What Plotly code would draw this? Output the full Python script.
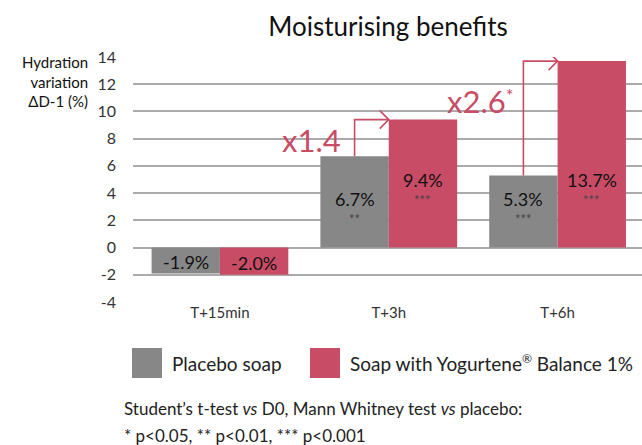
import plotly.graph_objects as go

categories = ["T+15min", "T+3h", "T+6h"]
placebo = [-1.9, 6.7, 5.3]
yogurtene = [-2.0, 9.4, 13.7]
placebo_labels = ["-1.9%", "6.7%", "5.3%"]
yogurtene_labels = ["-2.0%", "9.4%", "13.7%"]
placebo_stars = ["", "**", "***"]
yogurtene_stars = ["", "***", "***"]
fold_index = [1, 2]
fold_text = ["x1.4", "x2.6"]
fold_star = ["", "*"]
y_ticks = [-4, -2, 0, 2, 4, 6, 8, 10, 12, 14]

GREY = "#878787"
RED = "#c84c66"
FONT = "Lato"
BARGAP = 0.19
half = (1 - BARGAP) / 4  # offset of each bar center from category center

# plot-area pixel geometry
L, R, T, B = 133, 0, 57, 143
W, H = 642, 445
PW, PH = W - L - R, H - T - B

def px_x(px):
    return (px - L) / PW

def px_y(py):
    return 1 - (py - T) / PH

fig = go.Figure()
fig.add_trace(go.Bar(x=list(range(3)), y=placebo, marker=dict(color=GREY, line=dict(width=0)),
                     name="Placebo soap", showlegend=False, hoverinfo="skip"))
fig.add_trace(go.Bar(x=list(range(3)), y=yogurtene, marker=dict(color=RED, line=dict(width=0)),
                     name="Soap with Yogurtene® Balance 1%", showlegend=False, hoverinfo="skip"))

ann = []
shapes = []
# value labels
for i in range(3):
    for off, val, lab, st, ylab in ((-half, placebo[i], placebo_labels[i], placebo_stars[i], 3.6),
                                     (half, yogurtene[i], yogurtene_labels[i], yogurtene_stars[i], 4.95)):
        yy = ylab if val > 0 else val / 2 - 0.1
        ann.append(dict(x=i + off, y=yy, xref="x", yref="y", text=lab, showarrow=False,
                        font=dict(family=FONT, size=18, color="#111")))
        if st:
            ann.append(dict(x=i + off, y=yy, xref="x", yref="y", text=st, showarrow=False, yshift=-20,
                            font=dict(family=FONT, size=13, color="#444")))

# fold-change arrows
for k, i in enumerate(fold_index):
    xg = i - half
    yg = placebo[i]
    yr = yogurtene[i]
    shapes.append(dict(type="path", xref="x", yref="y",
                       path=f"M {xg},{yg} L {xg},{yr} L {i},{yr}",
                       line=dict(color=RED, width=1.6)))
    shapes.append(dict(type="path", xref="x", yref="y", xsizemode="pixel", ysizemode="pixel",
                       xanchor=i, yanchor=yr, path="M -9,9 L 0,0 L -9,-9",
                       line=dict(color=RED, width=1.6)))
    txt = fold_text[k]
    if fold_star[k]:
        txt += f"<span style='font-size:26px'><sup>{fold_star[k]}</sup></span>"
    ann.append(dict(x=xg, y=[7.9, 10.8][k], xref="x", yref="y", text=txt, showarrow=False,
                    xanchor="right", xshift=[-12, -8][k],
                    font=dict(family=FONT, size=31, color=RED)))

# y-axis title
ann.append(dict(x=px_x(90), y=px_y(51), xref="paper", yref="paper", text="Hydration<br>variation<br>ΔD-1 (%)",
                showarrow=False, xanchor="right", yanchor="top", align="right",
                font=dict(family=FONT, size=15, color="#111")))

# legend
for sx, col, lab in ((132, GREY, "Placebo soap"),
                     (310, RED, "Soap with Yogurtene<sup><span style='font-size:12px'>®</span></sup> Balance 1%")):
    shapes.append(dict(type="rect", xref="paper", yref="paper", x0=px_x(sx), x1=px_x(sx + 30),
                       y0=px_y(378), y1=px_y(348), fillcolor=col, line=dict(width=0)))
    ann.append(dict(x=px_x(sx + 38), y=px_y(363), xref="paper", yref="paper", text=lab, showarrow=False,
                    xanchor="left", yanchor="middle", font=dict(family=FONT, size=19, color="#222")))

# footnote
ann.append(dict(x=px_x(122), y=px_y(408), xref="paper", yref="paper",
                text="Student’s t-test <i>vs</i> D0, Mann Whitney test <i>vs</i> placebo:",
                showarrow=False, xanchor="left", yanchor="middle", font=dict(family=FONT, size=17, color="#222")))
ann.append(dict(x=px_x(122), y=px_y(435), xref="paper", yref="paper",
                text="* p<0.05, ** p<0.01, *** p<0.001",
                showarrow=False, xanchor="left", yanchor="middle", font=dict(family=FONT, size=17, color="#222")))

fig.update_layout(
    width=W, height=H, margin=dict(l=L, r=R, t=T, b=B),
    paper_bgcolor="white", plot_bgcolor="white",
    barmode="group", bargap=BARGAP, bargroupgap=0,
    title=dict(text="Moisturising benefits", xref="container", x=388 / W, xanchor="center",
               yref="container", y=1 - 27 / H, yanchor="middle",
               font=dict(family=FONT, size=26, color="#111")),
    xaxis=dict(tickmode="array", tickvals=list(range(3)), ticktext=categories, range=[-0.515, 2.5],
               showgrid=False, zeroline=False, showline=False, ticks="",
               tickfont=dict(family=FONT, size=15, color="#333")),
    yaxis=dict(range=[-4, 14], tickmode="array", tickvals=y_ticks, ticktext=[str(v) for v in y_ticks],
               showgrid=True, gridcolor="#aaaaaa", gridwidth=1.5,
               zeroline=False, showline=False, ticks="", ticklabelstandoff=16,
               tickfont=dict(family=FONT, size=16, color="#333")),
    annotations=ann, shapes=shapes, font=dict(family=FONT),
)

fig.write_html("out.html", config={"displayModeBar": False},
               post_script="document.body.style.margin='0';document.body.style.padding='0';")
